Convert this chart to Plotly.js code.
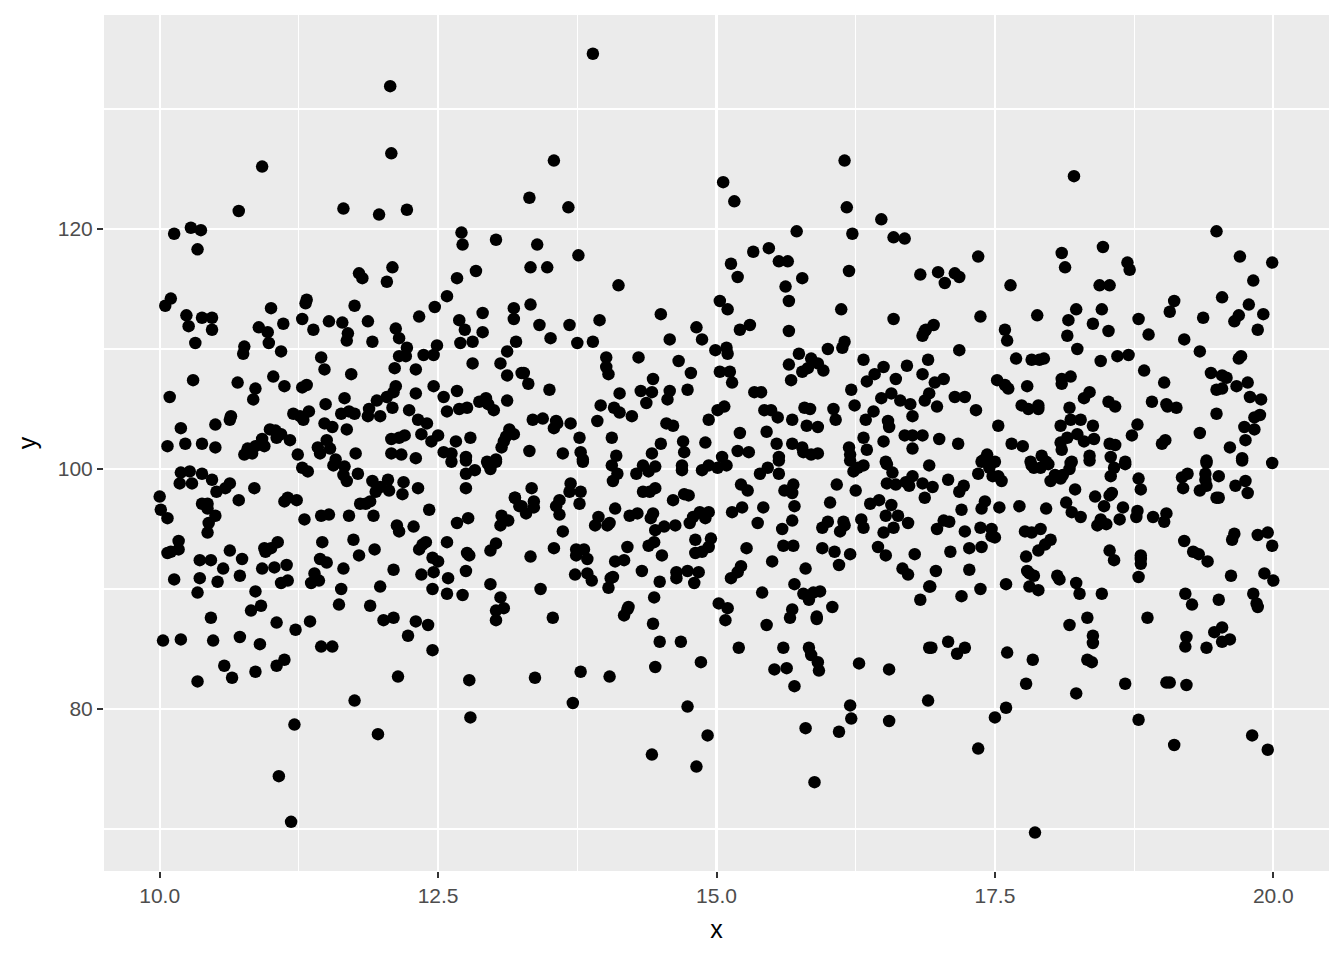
<!DOCTYPE html>
<html>
<head>
<meta charset="utf-8">
<script src="https://cdn.plot.ly/plotly-3.0.1.min.js"></script>
<style>html,body{margin:0;padding:0;background:#fff}#chart{width:1344px;height:960px}</style>
</head>
<body>
<div id="chart"></div>
<script>
const upperLeft = [[12.07,131.9],[12.08,126.3],[10.92,125.2],[10.71,121.5],[11.65,121.7],[11.97,121.2],[12.22,121.6],[10.28,120.1],[10.37,119.9],[10.13,119.6],[10.34,118.3],[12.71,119.7],[12.72,118.7],[13.02,119.1],[12.09,116.8],[11.79,116.3],[11.82,115.9],[12.04,115.6],[12.84,116.5],[12.67,115.9],[12.58,114.4],[12.47,113.5],[12.33,112.7],[10.10,114.2],[10.05,113.6],[10.24,112.8],[10.26,111.9],[10.38,112.6],[10.47,112.6],[10.47,111.6],[10.32,110.5],[11.0,113.4],[10.89,111.8],[10.97,111.4],[11.11,112.1],[10.98,110.5],[11.09,109.8],[10.76,110.2],[10.75,109.6],[11.32,114.1],[11.31,113.8],[11.28,112.5],[11.38,111.6],[11.52,112.3],[11.64,112.2],[11.75,113.6],[11.87,112.3],[11.69,111.3],[11.68,110.7],[11.91,110.6],[12.12,111.7],[12.15,110.9],[12.22,110.1],[12.15,109.4],[12.21,109.4],[12.11,108.4],[12.30,108.3],[12.37,109.5],[12.46,109.5],[12.49,110.3],[12.70,110.5],[12.81,110.6],[12.81,108.8],[12.69,112.4],[12.74,111.6],[12.90,113.0],[12.90,111.4],[13.18,113.4],[13.18,112.5],[13.20,110.6],[13.12,109.8],[13.06,108.8],[13.12,107.8],[13.25,108.0],[11.45,109.3],[11.48,108.3],[11.72,107.9],[10.30,107.4],[10.09,106.0],[10.70,107.2],[10.86,106.7],[10.84,105.8],[11.02,107.7],[11.12,106.9],[11.28,106.8],[11.32,107.0],[11.66,105.9],[11.49,105.4],[12.12,106.9],[12.10,106.4],[12.04,106.0],[11.95,105.7],[12.30,106.3],[12.46,106.9],[12.55,106.0],[12.67,106.5],[12.93,105.9],[12.87,105.6],[12.95,105.4],[13.0,104.9],[13.12,105.7],[12.76,105.1],[12.69,105.0],[12.58,104.8],[12.24,104.9],[12.09,105.1],[11.98,104.4],[11.88,105.0],[11.87,104.4],[11.75,104.6],[11.70,104.8],[11.63,104.6],[11.34,104.8],[11.20,104.6],[11.26,104.4],[11.29,104.1],[11.48,103.8],[11.55,103.5],[11.68,103.3],[10.64,104.4],[10.63,104.1],[10.50,103.7],[10.19,103.4],[12.32,104.1],[12.40,103.8],[12.35,102.9],[12.50,102.8],[12.44,102.3],[12.66,102.3],[12.79,102.6],[13.14,103.3],[13.18,102.9],[13.11,102.7],[13.09,102.3],[13.07,101.8],[12.2,102.8],[12.15,102.6],[12.08,102.5],[10.99,103.3],[11.04,103.2],[11.09,102.9],[11.05,102.6],[11.17,102.4],[10.92,102.5],[10.94,101.9],[10.86,101.9],[10.79,101.7],[10.76,101.2],[10.83,101.3],[10.07,101.9],[10.23,102.1],[10.38,102.1],[10.50,101.8],[11.24,101.2],[11.42,101.8],[11.50,102.4],[11.53,101.7],[11.44,101.3],[11.58,100.8],[11.76,101.3],[12.08,101.3],[12.17,101.2],[12.30,100.9],[12.55,101.4],[12.62,101.3],[12.75,101.0],[12.94,100.6],[13.02,100.8]];
const lowerLeft = [[10.19,99.7],[10.27,99.8],[10.38,99.6],[10.47,99.1],[10.18,98.8],[10.29,98.8],[10.63,98.8],[10.59,98.4],[10.51,98.1],[10.85,98.4],[10.0,97.7],[10.01,96.6],[10.07,95.9],[10.71,97.4],[10.38,97.1],[10.43,97.1],[10.43,96.7],[10.50,96.1],[10.44,95.5],[10.43,94.7],[10.17,94.0],[10.17,93.3],[10.10,93.1],[10.07,93.0],[10.36,92.4],[10.46,92.4],[10.63,93.2],[10.74,92.5],[10.57,91.7],[10.72,91.1],[10.36,90.9],[10.52,90.6],[10.13,90.8],[10.34,89.7],[10.46,87.6],[10.03,85.7],[10.19,85.8],[10.48,85.7],[10.72,86.0],[10.90,85.4],[10.58,83.6],[10.34,82.3],[10.65,82.6],[10.86,83.1],[11.05,83.6],[11.12,84.1],[11.21,78.7],[11.07,74.4],[11.18,70.6],[11.75,80.7],[11.96,77.9],[12.14,82.7],[12.78,82.4],[12.79,79.3],[12.45,84.9],[12.23,86.1],[12.30,87.3],[12.41,87.0],[12.01,87.4],[12.10,87.6],[11.89,88.6],[11.61,88.7],[11.98,90.2],[11.63,90.0],[12.10,91.6],[11.65,91.7],[11.79,92.8],[11.93,93.3],[11.74,94.1],[11.35,87.3],[11.22,86.6],[11.05,87.2],[10.82,88.2],[10.91,88.6],[10.86,89.8],[11.45,85.2],[11.55,85.2],[11.09,90.5],[11.15,90.7],[11.14,92.0],[11.03,91.8],[10.92,91.7],[11.36,90.5],[11.43,90.7],[11.39,91.3],[11.44,92.5],[11.50,92.2],[11.46,93.9],[10.94,93.4],[10.95,93.1],[11.0,93.4],[11.06,93.9],[11.30,95.8],[11.45,96.1],[11.52,96.2],[11.70,96.1],[11.92,96.1],[11.12,97.3],[11.15,97.6],[11.23,97.4],[11.28,100.1],[11.33,99.8],[11.56,100.3],[11.66,100.2],[11.65,99.5],[11.68,99.0],[11.78,99.6],[11.91,99.0],[12.05,99.1],[12.19,98.9],[12.32,98.4],[11.98,98.5],[11.94,98.1],[12.06,98.2],[12.18,97.9],[11.89,97.3],[11.85,97.1],[11.80,97.1],[12.42,96.6],[12.13,95.3],[12.15,94.8],[12.28,95.2],[12.39,93.9],[12.36,93.7],[12.33,93.3],[12.45,92.6],[12.50,92.3],[12.35,91.2],[12.46,91.4],[12.45,90.0],[12.58,93.9],[12.59,90.9],[12.58,89.6],[12.72,89.5],[12.75,91.5],[12.76,93.0],[12.78,92.8],[12.67,95.5],[12.77,95.9],[12.75,98.4],[12.75,99.6],[12.83,99.9],[12.62,100.6],[12.75,100.7],[12.97,100.0],[12.95,100.4],[13.02,100.6],[13.19,97.6],[13.23,96.9],[13.07,96.1],[13.13,95.7],[13.06,95.3],[13.02,93.8],[12.97,93.2],[12.97,90.4],[13.06,89.3],[13.09,88.4],[13.02,88.2],[13.02,87.4]];
const upperMiddle = [[13.89,134.6],[13.54,125.7],[13.32,122.6],[13.67,121.8],[13.39,118.7],[13.33,116.8],[13.48,116.8],[13.76,117.8],[14.12,115.3],[13.33,113.7],[13.41,112.0],[13.68,112.0],[13.95,112.4],[13.51,110.9],[13.75,110.5],[13.89,110.6],[14.50,112.9],[14.58,110.8],[14.82,111.8],[14.87,110.8],[14.99,109.9],[15.09,110.1],[15.10,109.6],[14.01,109.3],[14.01,108.5],[14.03,107.9],[14.30,109.3],[14.66,109.0],[14.77,108.0],[13.27,108.0],[13.31,107.1],[13.50,106.6],[14.43,107.5],[14.32,106.5],[14.42,106.4],[14.13,106.3],[14.58,106.5],[14.56,105.8],[14.74,106.6],[14.37,105.5],[13.96,105.3],[14.08,105.1],[14.13,104.7],[14.24,104.4],[13.93,104.0],[13.35,104.1],[13.44,104.2],[13.56,104.0],[13.57,103.8],[13.54,103.4],[13.69,103.8],[13.77,102.6],[14.06,102.6],[13.32,101.5],[13.62,101.3],[13.78,101.4],[13.80,100.8],[14.10,101.1],[14.42,101.3],[14.50,102.1],[14.70,102.3],[14.71,101.4],[14.90,102.2],[14.55,103.8],[14.61,103.6],[14.93,104.1],[15.01,104.9],[15.07,105.2],[15.05,101.0],[15.19,101.5],[15.29,101.4],[15.21,103.0],[15.45,103.1],[15.54,102.1],[15.68,104.1],[15.43,104.9],[15.49,104.9],[15.55,104.3],[15.34,106.4],[15.40,106.4],[15.14,107.2],[15.12,108.1],[15.03,108.1],[15.06,123.9],[15.16,122.3],[16.15,125.7],[16.17,121.8],[16.22,119.6],[15.72,119.8],[15.47,118.4],[15.33,118.1],[15.13,117.1],[15.19,116.0],[15.56,117.3],[15.64,117.3],[15.77,115.9],[15.62,115.2],[15.65,114.0],[15.65,111.5],[15.03,114.0],[15.10,113.3],[15.21,111.6],[15.30,112.0],[16.19,116.5],[16.12,113.3],[16.48,120.8],[16.59,119.3],[16.69,119.2],[16.83,116.2],[16.59,112.5],[16.85,111.1],[16.87,111.5],[16.0,110.0],[16.15,110.6],[16.13,110.1],[15.74,109.6],[15.85,109.2],[15.65,108.7],[15.91,108.8],[15.96,108.2],[15.82,108.4],[15.77,108.1],[15.67,107.4],[16.32,109.1],[16.50,108.5],[16.71,108.6],[16.90,109.1],[16.42,107.9],[16.35,107.3],[16.61,107.5],[16.85,107.9],[16.21,106.6],[16.24,105.3],[16.48,105.9],[16.57,106.3],[16.65,105.7],[16.74,105.4],[16.87,105.7],[16.91,106.3],[16.41,104.8],[16.34,104.1],[16.76,104.4],[16.05,105.0],[16.07,104.1],[16.54,104.0],[16.55,103.5],[15.79,105.1],[15.84,105.0],[15.81,103.6],[15.91,103.5],[16.32,102.6],[16.69,102.8],[16.76,102.8],[16.85,102.8],[16.50,102.3],[16.19,101.8],[16.20,101.2],[16.35,101.6],[16.76,101.7],[15.68,102.1],[15.77,101.8],[15.78,101.4],[15.85,101.2],[15.91,101.3],[15.56,101.0],[16.52,100.6]];
const lowerMiddle = [[13.80,100.6],[14.06,100.3],[14.11,99.6],[14.07,99.0],[14.34,100.3],[14.28,99.6],[14.39,99.8],[14.45,100.2],[14.69,100.3],[14.69,99.9],[14.87,99.9],[14.93,100.3],[15.01,100.1],[15.09,100.3],[13.34,98.4],[13.19,97.6],[13.69,98.8],[13.68,98.1],[13.78,98.1],[13.59,97.4],[13.56,96.9],[13.36,97.3],[13.36,96.8],[13.25,96.9],[13.29,96.3],[13.59,96.2],[13.77,97.1],[13.62,94.8],[14.09,96.7],[14.34,98.1],[14.40,98.1],[14.45,98.4],[14.61,97.4],[14.71,97.9],[14.75,97.8],[13.94,96.0],[13.91,95.3],[14.02,95.3],[14.04,95.5],[14.22,96.1],[14.29,96.3],[14.43,96.3],[14.41,95.9],[14.53,95.2],[14.45,94.9],[14.63,95.3],[14.76,95.5],[14.79,96.0],[14.85,96.4],[14.93,96.4],[14.90,95.9],[14.81,94.1],[14.95,94.2],[14.93,93.5],[14.87,93.1],[14.81,93.0],[14.44,93.9],[14.39,93.6],[14.51,92.8],[14.20,93.5],[14.17,92.4],[14.09,92.3],[14.33,91.5],[14.64,91.4],[14.64,90.9],[14.74,91.5],[14.84,91.4],[14.80,90.5],[14.49,90.6],[14.44,89.3],[14.43,87.1],[14.49,85.6],[14.68,85.6],[14.45,83.5],[14.86,83.9],[14.74,80.2],[14.92,77.8],[14.42,76.2],[14.82,75.2],[14.21,88.5],[14.20,88.3],[14.17,87.8],[14.07,91.0],[14.05,90.9],[14.03,90.1],[13.88,90.7],[13.84,91.3],[13.73,91.2],[13.54,93.4],[13.33,92.7],[13.42,90.0],[13.53,87.6],[13.74,93.3],[13.81,93.3],[13.74,92.8],[13.84,92.5],[13.37,82.6],[13.78,83.1],[14.04,82.7],[13.71,80.5],[15.22,98.7],[15.28,98.2],[15.39,99.6],[15.46,100.1],[15.56,99.6],[15.56,100.7],[15.69,98.7],[15.61,98.2],[15.68,98.0],[15.70,96.9],[15.42,96.8],[15.23,96.8],[15.14,96.4],[15.37,95.5],[15.68,95.7],[15.59,95.0],[15.27,93.4],[15.60,93.6],[15.69,93.6],[15.50,92.3],[15.22,91.9],[15.19,91.4],[15.13,90.9],[15.80,91.7],[15.70,90.4],[15.41,89.7],[15.78,89.6],[15.83,89.1],[15.87,89.7],[15.93,89.8],[15.02,88.8],[15.10,88.4],[15.08,87.4],[15.45,87.0],[15.68,88.3],[15.66,87.6],[15.90,87.7],[15.90,87.5],[16.04,88.5],[15.20,85.1],[15.60,85.1],[15.83,85.1],[15.85,84.5],[15.91,83.9],[15.92,83.2],[15.52,83.3],[15.63,83.4],[15.70,81.9],[15.80,78.4],[15.88,73.9],[16.10,78.1],[16.21,79.2],[16.20,80.3],[16.28,83.8],[16.55,83.3],[16.55,79.0],[16.90,80.7],[16.91,85.1],[16.83,89.1],[16.91,90.2],[16.78,92.9],[16.67,91.7],[16.72,91.2],[16.52,92.8],[16.45,93.5],[16.20,92.9],[16.10,92.0],[16.06,93.1],[15.95,93.4],[15.95,95.1],[16.0,95.6],[16.14,95.6],[16.15,95.3],[16.11,94.8],[16.30,95.8],[16.32,95.1],[16.50,94.7],[16.59,95.1],[16.52,96.1],[16.63,96.1],[16.72,95.5],[16.57,97.0],[16.46,97.4],[16.38,97.1],[16.02,97.2],[16.25,98.2],[16.08,98.7],[16.53,98.8],[16.61,98.7],[16.70,98.9],[16.73,98.6],[16.76,99.4],[16.85,98.8],[16.87,97.6],[16.58,99.7],[16.53,100.4],[16.32,100.3],[16.27,100.1],[16.23,99.8],[16.20,100.7]];
const upperRight = [[18.21,124.4],[19.49,119.8],[18.47,118.5],[18.10,118.0],[18.13,116.8],[18.69,117.2],[18.71,116.6],[19.70,117.7],[19.99,117.2],[19.82,115.7],[17.35,117.7],[17.64,115.3],[16.99,116.4],[17.05,115.5],[17.14,116.3],[17.18,116.0],[18.44,115.3],[18.53,115.3],[17.37,112.7],[17.88,112.8],[18.23,113.3],[18.16,112.4],[18.46,113.3],[18.38,112.1],[18.52,111.5],[18.15,111.1],[18.79,112.5],[18.88,111.2],[19.20,110.8],[19.11,114.0],[19.07,113.1],[19.37,112.6],[19.54,114.3],[19.78,113.7],[19.69,112.8],[19.65,112.3],[19.91,112.9],[19.86,111.6],[16.95,112.0],[16.88,111.6],[17.18,109.9],[17.59,111.6],[17.61,110.7],[18.24,110.0],[19.34,109.8],[17.69,109.2],[17.83,109.1],[17.90,109.1],[17.94,109.2],[18.45,109.0],[18.60,109.4],[18.70,109.5],[19.71,109.4],[19.69,109.2],[18.84,108.2],[19.44,108.0],[19.54,107.8],[19.58,107.6],[19.02,107.2],[19.77,107.2],[19.67,106.9],[19.49,106.6],[19.54,106.7],[17.52,107.4],[17.59,107.0],[17.62,106.7],[17.79,106.9],[18.10,107.5],[18.18,107.7],[18.10,107.1],[18.35,106.4],[18.30,105.9],[16.96,107.2],[17.04,107.5],[17.14,106.0],[17.23,106.0],[16.98,105.2],[17.33,104.9],[17.74,105.3],[17.80,105.0],[17.89,105.0],[17.89,105.3],[18.17,105.1],[18.52,105.6],[18.58,105.2],[18.91,105.6],[19.04,105.4],[19.05,105.2],[19.13,105.1],[19.89,105.8],[19.79,106.0],[19.49,104.6],[19.88,104.5],[19.83,104.3],[18.18,104.1],[18.27,104.1],[18.09,103.6],[18.38,103.6],[18.78,103.7],[17.53,103.6],[18.73,102.8],[19.74,103.5],[19.83,103.3],[19.34,103.0],[19.75,102.4],[19.03,102.4],[19.0,102.1],[17.0,102.5],[17.17,102.1],[17.65,102.1],[17.75,101.9],[18.24,102.9],[18.15,102.6],[18.09,102.2],[18.10,101.6],[18.30,102.3],[18.39,102.5],[18.53,102.1],[18.58,102.0],[19.61,101.8],[17.43,101.2],[17.39,100.7],[17.50,100.6],[17.92,101.1],[17.82,100.6],[17.96,100.6],[18.19,100.6],[18.35,101.1],[18.54,101.0],[18.67,100.6],[19.40,100.7],[19.72,100.9],[19.99,100.5]];
const lowerRight = [[16.91,100.3],[17.38,100.6],[17.47,100.5],[17.45,100.1],[17.35,99.6],[17.48,99.4],[17.53,99.4],[17.56,99.0],[17.83,100.3],[17.85,100.1],[17.91,100.1],[17.98,100.4],[18.18,100.5],[18.17,100.0],[18.11,99.5],[18.04,99.5],[18.0,99.0],[18.09,99.2],[18.22,98.3],[18.35,100.7],[18.57,100.1],[18.54,99.4],[18.67,100.4],[18.79,99.2],[18.81,98.3],[18.40,97.7],[18.55,98.0],[18.53,97.8],[18.48,96.9],[18.14,97.2],[18.19,96.4],[18.27,96.0],[18.65,96.8],[18.62,95.8],[18.78,96.5],[18.77,96.0],[18.92,96.0],[19.04,96.3],[19.02,95.6],[18.45,95.8],[18.42,95.3],[18.50,95.4],[17.72,96.9],[17.96,96.7],[17.54,96.8],[17.41,97.3],[17.38,96.7],[17.20,96.6],[17.08,99.1],[16.94,98.5],[17.22,98.6],[17.18,98.1],[19.23,99.6],[19.18,99.3],[19.19,98.4],[19.39,99.6],[19.39,99.1],[19.40,98.6],[19.34,98.2],[19.51,99.4],[19.40,100.5],[19.72,100.7],[19.75,99.0],[19.66,98.6],[19.77,98.0],[19.49,97.6],[19.51,97.6],[17.04,95.7],[17.09,95.6],[16.98,95.0],[17.23,94.8],[17.37,95.1],[17.47,95.0],[17.47,94.4],[17.50,94.3],[17.77,94.8],[17.83,94.7],[17.91,95.0],[18.0,94.1],[17.95,93.7],[17.89,93.2],[17.78,92.7],[17.38,93.5],[17.27,93.4],[17.10,93.1],[16.97,91.5],[17.27,91.6],[16.92,90.2],[17.20,89.4],[17.37,90.0],[17.60,90.4],[17.79,91.5],[17.81,91.3],[17.85,91.1],[17.81,90.2],[17.89,89.9],[18.06,91.1],[18.08,90.8],[18.23,90.5],[18.26,89.6],[18.46,89.6],[18.53,93.2],[18.57,92.4],[18.81,92.8],[18.81,92.5],[18.81,92.1],[18.79,91.0],[19.20,94.0],[19.28,93.1],[19.33,92.9],[19.41,92.3],[19.65,94.6],[19.63,94.1],[19.86,94.5],[19.95,94.7],[19.99,93.6],[19.62,91.1],[19.92,91.3],[20.0,90.7],[19.21,89.6],[19.27,88.7],[19.51,89.1],[19.82,89.6],[19.85,88.8],[19.86,88.5],[18.87,87.6],[18.33,87.6],[18.17,87.0],[18.38,86.1],[18.38,85.5],[19.54,86.8],[19.47,86.4],[19.61,85.8],[19.54,85.6],[19.22,86.0],[19.21,85.2],[19.40,85.1],[17.08,85.6],[16.93,85.1],[17.23,85.1],[17.16,84.6],[17.61,84.7],[17.84,84.1],[18.33,84.1],[18.37,83.9],[17.78,82.1],[18.23,81.3],[18.67,82.1],[19.04,82.2],[19.07,82.2],[19.22,82.0],[17.60,80.1],[17.50,79.3],[18.79,79.1],[17.35,76.7],[19.11,77.0],[19.81,77.8],[19.95,76.6],[17.86,69.7]];

const allPoints = [].concat(upperLeft, lowerLeft, upperMiddle, lowerMiddle, upperRight, lowerRight);
const xValues = allPoints.map(p => p[0]);
const yValues = allPoints.map(p => p[1]);
const xTicks = [10, 12.5, 15, 17.5, 20];
const xTickLabels = ["10.0", "12.5", "15.0", "17.5", "20.0"];
const yTicks = [80, 100, 120];
const yTickLabels = ["80", "100", "120"];

const trace = {type:'scatter', mode:'markers', x:xValues, y:yValues,
  marker:{color:'#000000', size:12.5, line:{width:0}}, hoverinfo:'skip', cliponaxis:true};

const tickFont = {family:'"Liberation Sans", Arial, sans-serif', size:21, color:'#4D4D4D'};
const titleFont = {family:'"Liberation Sans", Arial, sans-serif', size:25, color:'#000000'};
const axisBase = {showline:false, zeroline:false, gridcolor:'#FFFFFF', gridwidth:2.2,
  ticks:'outside', ticklen:6, tickwidth:2, tickcolor:'#333333', tickfont:tickFont, tickmode:'array'};

const layout = {
  width:1344, height:960, showlegend:false,
  paper_bgcolor:'#FFFFFF', plot_bgcolor:'#EBEBEB',
  margin:{l:103.5, r:15, t:15, b:89, pad:0},
  xaxis:Object.assign({}, axisBase, {range:[9.5,20.5], tickvals:xTicks, ticktext:xTickLabels,
    title:{text:'x', font:titleFont, standoff:14},
    minor:{tickmode:'array', tickvals:[11.25,13.75,16.25,18.75], showgrid:true, gridcolor:'#FFFFFF', gridwidth:1.1, ticks:''}}),
  yaxis:Object.assign({}, axisBase, {range:[66.5,137.83], tickvals:yTicks, ticktext:yTickLabels,
    title:{text:'y', font:titleFont, standoff:14},
    minor:{tickmode:'array', tickvals:[70,90,110,130], showgrid:true, gridcolor:'#FFFFFF', gridwidth:1.1, ticks:''}})
};
Plotly.newPlot('chart',[trace],layout,{displayModeBar:false,staticPlot:true});
</script>
</body>
</html>
